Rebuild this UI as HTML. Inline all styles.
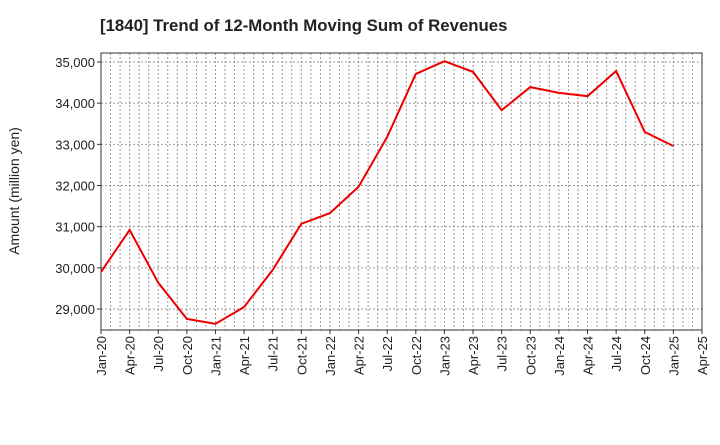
<!DOCTYPE html>
<html><head><meta charset="utf-8"><style>
body{margin:0;background:#fff;font-family:"Liberation Sans",sans-serif}
</style></head><body>
<svg id="chart" width="720" height="440" xmlns="http://www.w3.org/2000/svg"></svg>
<script>
const categories=["Jan-20","Apr-20","Jul-20","Oct-20","Jan-21","Apr-21","Jul-21","Oct-21","Jan-22","Apr-22","Jul-22","Oct-22","Jan-23","Apr-23","Jul-23","Oct-23","Jan-24","Apr-24","Jul-24","Oct-24","Jan-25","Apr-25"];
const revenues=[29900,30920,29640,28760,28640,29050,29950,31070,31330,31970,33180,34710,35020,34760,33830,34390,34250,34170,34780,33300,32960];
const yTicks=[29000,30000,31000,32000,33000,34000,35000];
const yTickLabels=["29,000","30,000","31,000","32,000","33,000","34,000","35,000"];
const NS="http://www.w3.org/2000/svg",svg=document.getElementById("chart");
const L=101,R=702,T=53,B=330;
const x=i=>L+(R-L)*i/(categories.length-1);
const y=v=>62+(35000-v)*0.04117;
function mk(t,a,p){const e=document.createElementNS(NS,t);for(const k in a)e.setAttribute(k,a[k]);(p||svg).appendChild(e);return e;}
const title=mk("text",{x:100,y:31,"font-size":16.8,"font-weight":"bold",fill:"#222"});


title.textContent="[1840]  Trend of 12-Month Moving Sum of Revenues";
const grid=mk("g",{});


for(let m=1;m<(categories.length-1)*3;m++){const gx=L+(R-L)*m/((categories.length-1)*3);mk("line",{x1:gx,x2:gx,y1:T,y2:B,stroke:"#999","stroke-dasharray":"2,2","stroke-width":1},grid);}
yTicks.forEach((v,i)=>{mk("line",{x1:L,x2:R,y1:y(v),y2:y(v),stroke:"#999","stroke-dasharray":"2,2"},grid);
const t=mk("text",{x:L-6,y:y(v)+5,"text-anchor":"end","font-size":13,fill:"#222"});


t.textContent=yTickLabels[i];
mk("line",{x1:L-4,x2:L,y1:y(v),y2:y(v),stroke:"#333"});});
categories.forEach((c,i)=>{const t=mk("text",{transform:`translate(${x(i)+5},${B+6}) rotate(-90)`,"text-anchor":"end","font-size":13,fill:"#222"});


t.textContent=c;
mk("line",{x1:x(i),x2:x(i),y1:B,y2:B+4,stroke:"#333"});});
const frame=mk("rect",{x:L,y:T,width:R-L,height:B-T,fill:"none",stroke:"#333"});


const yt=mk("text",{transform:"translate(19,191) rotate(-90)","text-anchor":"middle","font-size":14,fill:"#222"});


yt.textContent="Amount (million yen)";
const line=mk("polyline",{points:revenues.map((v,i)=>x(i)+","+y(v)).join(" "),fill:"none",stroke:"#ee0000","stroke-width":2});


</script>
</body></html>
